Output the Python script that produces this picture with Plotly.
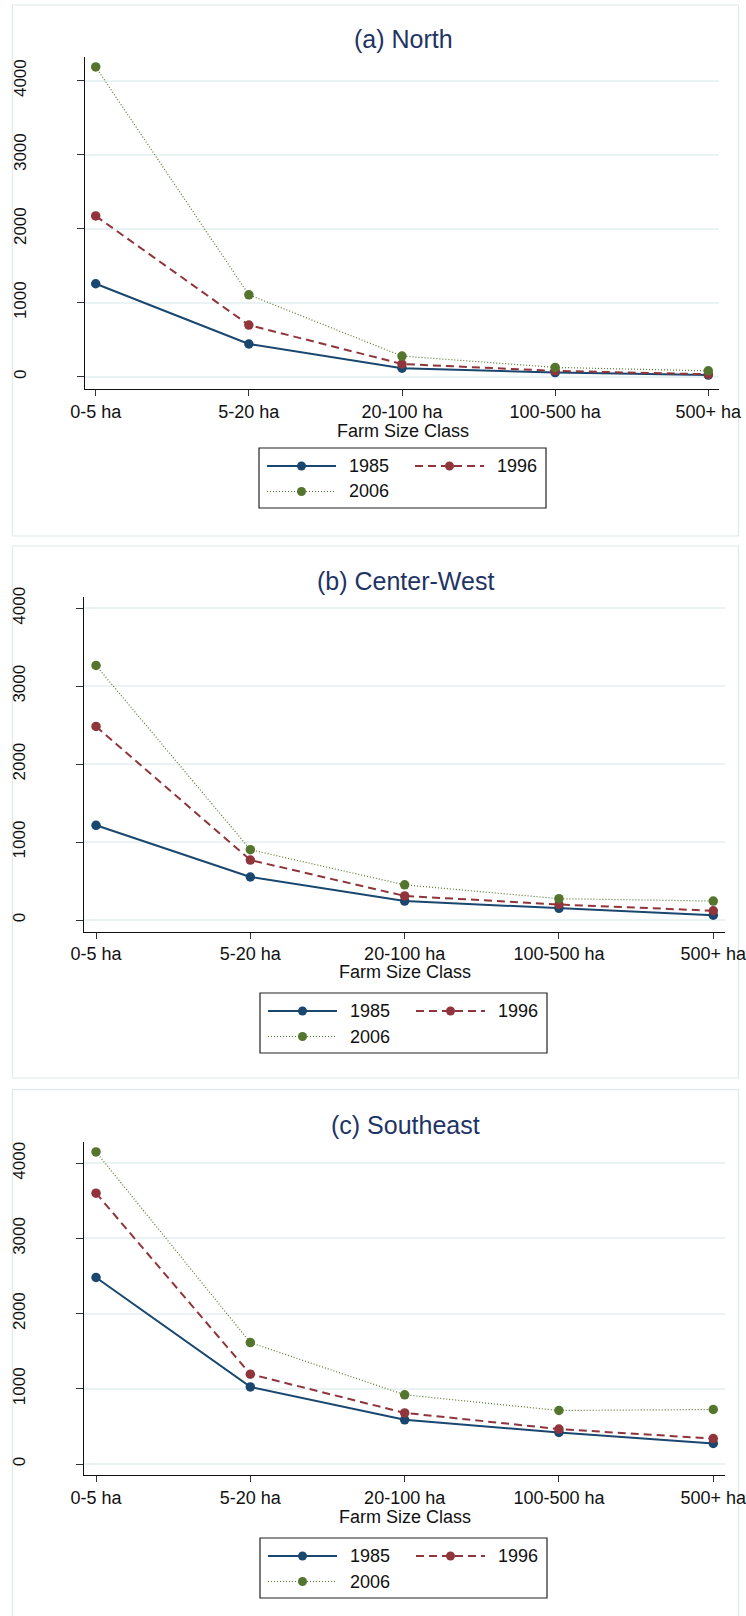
import plotly.graph_objects as go

W, H = 746, 1616

categories = ["0-5 ha", "5-20 ha", "20-100 ha", "100-500 ha", "500+ ha"]
years = ["1985", "1996", "2006"]
titles = ["(a) North", "(b) Center-West", "(c) Southeast"]
y_tickvals = [0, 1000, 2000, 3000, 4000]
y_ticktext = ["0", "1000", "2000", "3000", "4000"]
x_title = "Farm Size Class"

north_1985 = [1256, 442, 116, 56, 23]
north_1996 = [2172, 698, 172, 79, 33]
north_2006 = [4186, 1107, 279, 126, 79]

cw_1985 = [1215, 552, 243, 150, 62]
cw_1996 = [2484, 769, 309, 199, 119]
cw_2006 = [3266, 902, 451, 274, 243]

se_1985 = [2481, 1026, 588, 420, 274]
se_1996 = [3603, 1195, 680, 465, 338]
se_2006 = [4151, 1615, 921, 712, 725]

panels = [
    [north_1985, north_1996, north_2006],
    [cw_1985, cw_1996, cw_2006],
    [se_1985, se_1996, se_2006],
]

colors = ["#1a476f", "#90353b", "#55752f"]
dashes = ["solid", "8px,5px", "1px,2px"]
widths = [2, 2, 1.2]

FONT = "Liberation Sans, Arial, sans-serif"
TITLE_COLOR = "#1e3464"
GRID = "#eaf2f3"
FRAME = "#dfe9ea"

# pixel layout per panel
geo = [
    dict(xd=(85, 719.3), xr=(-0.0699, 4.0718), yd=(56.7, 389.3), yr=(-170, 4324),
         frame=(12.5, 5, 738.5, 536), title_y=39, title_x=403, xt_y=431, leg_top=448, leg_x=259),
    dict(xd=(84.3, 725), xr=(-0.076, 4.076), yd=(597.3, 931.7), yr=(-150, 4141),
         frame=(12.5, 546, 738.5, 1078), title_y=581, title_x=405, xt_y=972.5, leg_top=993, leg_x=260),
    dict(xd=(84.3, 725), xr=(-0.076, 4.076), yd=(1141.7, 1475), yr=(-146, 4287),
         frame=(12.5, 1089.6, 738.5, 1640), title_y=1125, title_x=405, xt_y=1517, leg_top=1538, leg_x=260),
]


def px(x):
    return x / W


def py(y):
    return 1 - y / H


fig = go.Figure()
shapes = []
annotations = []

for i, (g, series) in enumerate(zip(geo, panels)):
    n = "" if i == 0 else str(i + 1)
    xa = "x" + n
    ya = "y" + n
    for s, (yr_name, vals) in enumerate(zip(years, series)):
        fig.add_trace(go.Scatter(
            x=categories, y=vals, mode="lines+markers", name=yr_name,
            xaxis=xa, yaxis=ya, showlegend=False,
            line=dict(color=colors[s], width=widths[s], dash=dashes[s]),
            marker=dict(color=colors[s], size=9.5, symbol="circle"),
            cliponaxis=False,
        ))
    fig.layout["xaxis" + n] = dict(
        domain=[px(g["xd"][0]), px(g["xd"][1])], anchor=ya,
        type="category", range=list(g["xr"]),
        showline=True, linecolor="#111", linewidth=1.3,
        ticks="outside", ticklen=6, tickcolor="#333", tickwidth=1.2,
        showgrid=False, zeroline=False, automargin=False,
        tickfont=dict(family=FONT, size=18, color="#111"),
    )
    fig.layout["yaxis" + n] = dict(
        domain=[py(g["yd"][1]), py(g["yd"][0])], anchor=xa,
        range=list(g["yr"]), tickvals=y_tickvals, ticktext=y_ticktext,
        showline=True, linecolor="#111", linewidth=1.3,
        ticks="outside", ticklen=7, tickcolor="#333", tickwidth=1.2,
        showgrid=True, gridcolor=GRID, gridwidth=1.5, zeroline=False,
        automargin=False, tickangle=-90, ticklabelstandoff=44,
        tickfont=dict(family=FONT, size=17, color="#111"),
    )
    # panel frame
    fx0, fy0, fx1, fy1 = g["frame"]
    shapes.append(dict(type="rect", xref="paper", yref="paper",
                       x0=px(fx0), x1=px(fx1), y0=py(fy1), y1=py(fy0),
                       line=dict(color=FRAME, width=1.2), layer="below"))
    annotations.append(dict(text=titles[i], xref="paper", yref="paper",
                            x=px(g["title_x"]), y=py(g["title_y"]),
                            xanchor="center", yanchor="middle", showarrow=False,
                            font=dict(family=FONT, size=25, color=TITLE_COLOR)))
    annotations.append(dict(text=x_title, xref="paper", yref="paper",
                            x=px(g["title_x"]), y=py(g["xt_y"]),
                            xanchor="center", yanchor="middle", showarrow=False,
                            font=dict(family=FONT, size=18, color="#111")))
    # manual legend
    lt, lx = g["leg_top"], g["leg_x"]
    shapes.append(dict(type="rect", xref="paper", yref="paper",
                       x0=px(lx), x1=px(lx + 287), y0=py(lt + 60), y1=py(lt),
                       line=dict(color="#222", width=1.2), fillcolor="white"))
    slots = [(lx + 8, lt + 18), (lx + 156, lt + 18), (lx + 8, lt + 43.5)]
    for s, (sx, sy) in enumerate(slots):
        shapes.append(dict(type="line", xref="paper", yref="paper",
                           x0=px(sx), x1=px(sx + 69), y0=py(sy), y1=py(sy),
                           line=dict(color=colors[s], width=widths[s], dash=dashes[s])))
        cx = sx + 34.5
        shapes.append(dict(type="circle", xref="paper", yref="paper",
                           x0=px(cx - 4.5), x1=px(cx + 4.5), y0=py(sy + 4.5), y1=py(sy - 4.5),
                           line=dict(width=0), fillcolor=colors[s]))
        annotations.append(dict(text=years[s], xref="paper", yref="paper",
                                x=px(sx + 80), y=py(sy), xanchor="left", yanchor="middle",
                                showarrow=False,
                                font=dict(family=FONT, size=18, color="#111")))

fig.update_layout(
    width=W, height=H, autosize=False,
    margin=dict(l=0, r=0, t=0, b=0),
    paper_bgcolor="white", plot_bgcolor="white",
    shapes=shapes, annotations=annotations, showlegend=False,
)

fig.write_html("out.html", config={"displayModeBar": False},
               post_script="document.body.style.margin='0';document.body.style.overflow='hidden';")
